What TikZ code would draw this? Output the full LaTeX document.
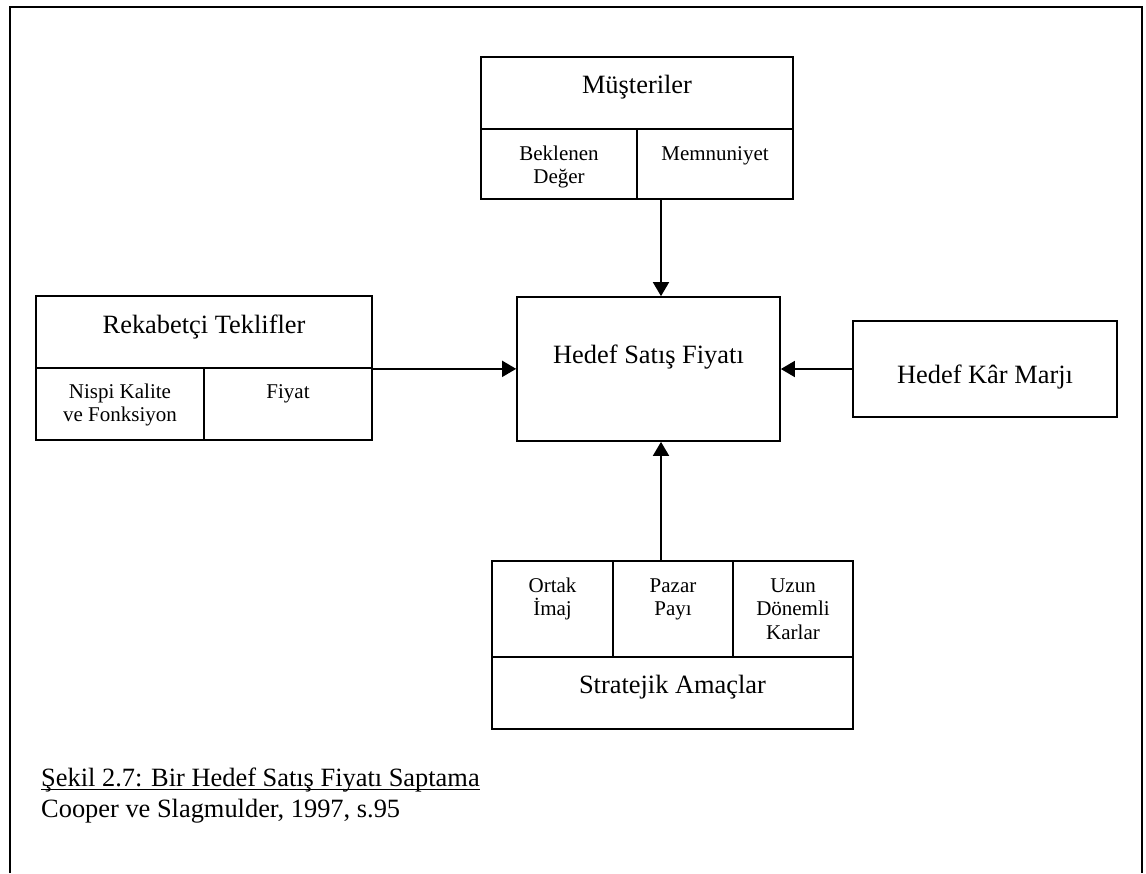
\documentclass[tikz,border=0pt]{standalone}
\usepackage{fontspec}
\setmainfont{Liberation Serif}
\usetikzlibrary{arrows.meta}

\newcommand{\bigtxt}{\fontsize{26.4}{30.4}\selectfont}
\newcommand{\smalltxt}{\fontsize{21}{23.8}\selectfont}

\tikzset{
  cell/.style 2 args={draw, line width=1.7pt, inner sep=0pt,
    minimum width=#1pt, minimum height=#2pt},
  bigt/.style={inner sep=0pt, anchor=base, font=\bigtxt},
  % multi-line labels: the base anchor sits on the last line
  smallt/.style={inner sep=0pt, anchor=base, align=center, font=\smalltxt},
  arr/.style={line width=1.7pt, -{Triangle[length=14pt,width=16pt]}},
  frame/.style={line width=2.2pt}
}

\begin{document}
\begin{tikzpicture}[x=1pt,y=-1pt]
\useasboundingbox (0,0) rectangle (1146,873);

% page frame, open at the bottom
\draw[frame] (10,873) -- (10,7) -- (1142,7) -- (1142,873);

% customers block
\node[cell={312}{72}] (must) at (637,93) {};
\node[cell={156}{70}] (bekl) at (559,164) {};
\node[cell={156}{70}] (memn) at (715,164) {};
\node[bigt] (must-t) at (637,93) {Müşteriler};
\node[smallt] (bekl-t) at (559,183.8) {Beklenen\\Değer};
\node[smallt] (memn-t) at (715,160) {Memnuniyet};

% target selling price
\node[cell={263}{144}] (hsf) at (648.5,369) {};
\node[bigt] (hsf-t) at (648.5,363) {Hedef Satış Fiyatı};

% competitive offerings block
\node[cell={336}{72}] (rek) at (204,332) {};
\node[cell={168}{72}] (nisp) at (120,404) {};
\node[cell={168}{72}] (fiy) at (288,404) {};
\node[bigt] (rek-t) at (204,333) {Rekabetçi Teklifler};
\node[smallt] (nisp-t) at (120,421.8) {Nispi Kalite\\ve Fonksiyon};
\node[smallt] (fiy-t) at (288,398) {Fiyat};

% target profit margin
\node[cell={264}{96}] (kar) at (985,369) {};
\node[bigt] (kar-t) at (985,383) {Hedef Kâr Marjı};

% strategic objectives block
\node[cell={121}{96}] (ortak) at (552.5,609) {};
\node[cell={120}{96}] (pazar) at (673,609) {};
\node[cell={120}{96}] (uzun) at (793,609) {};
\node[cell={361}{72}] (strat) at (672.5,693) {};
\node[smallt] (ortak-t) at (552.5,615.8) {Ortak\\İmaj};
\node[smallt] (pazar-t) at (673,615.8) {Pazar\\Payı};
\node[smallt] (uzun-t) at (793,639.6) {Uzun\\Dönemli\\Karlar};
\node[bigt] (strat-t) at (672.5,693) {Stratejik Amaçlar};

% connectors into the target price
\coordinate (ax) at (661,0);
\draw[arr] (memn.south -| ax) -- (hsf.north -| ax);
\draw[arr] (rek.south east) -- (rek.south east -| hsf.west);
\draw[arr] (kar.west) -- (kar.west -| hsf.east);
\draw[arr] (pazar.north -| ax) -- (hsf.south -| ax);

% caption and source
\node[bigt, anchor=base west] (cap) at (41,786) {Şekil 2.7: Bir Hedef Satış Fiyatı Saptama};
\draw[line width=1.3pt] ([yshift=-3.5pt]cap.base west) -- ([yshift=-3.5pt]cap.base east);
\node[bigt, anchor=base west] (src) at (41,817) {Cooper ve Slagmulder, 1997, s.95};
\end{tikzpicture}
\end{document}
